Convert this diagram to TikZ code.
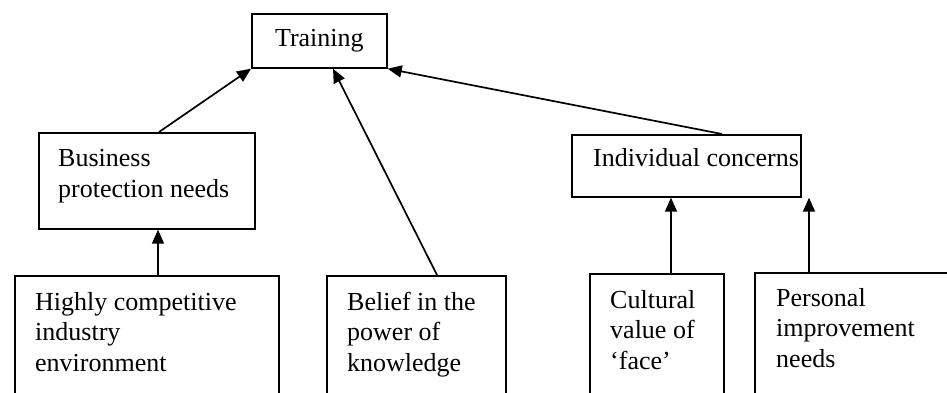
\documentclass[tikz,border=0pt]{standalone}
\usepackage{fontspec}
\setmainfont{Liberation Serif}
\usetikzlibrary{arrows.meta}
\begin{document}
\begin{tikzpicture}[x=1pt,y=-1pt,
  frame/.style={draw, line width=1.7pt, inner sep=0pt, anchor=north west},
  caption/.style={inner sep=0pt, anchor=base west, font=\fontsize{26}{30.5}\selectfont},
  link/.style={line width=1.7pt, -{Triangle[length=14pt,width=12pt]}}]
\useasboundingbox (0,0) rectangle (947,392);
\clip (0,0) rectangle (947,392);

% boxes
\node[frame, minimum width=135pt, minimum height=54pt] (train) at (251,13) {};
\node[frame, minimum width=216pt, minimum height=96pt] (business) at (38,132) {};
\node[frame, minimum width=229pt, minimum height=62pt] (indiv) at (571,134) {};
\node[frame, minimum width=264pt, minimum height=160pt] (highly) at (14,275) {};
\node[frame, minimum width=179pt, minimum height=160pt] (belief) at (326,275) {};
\node[frame, minimum width=134pt, minimum height=160pt] (cultural) at (589,273) {};
\node[frame, minimum width=240pt, minimum height=160pt] (personal) at (754,272) {};

% texts
\node[inner sep=0pt, font=\fontsize{26}{30.5}\selectfont] (trainlbl) at (train.center) {Training};
\node[caption] (businesslbl) at (58,166.5) {\parbox[t]{200pt}{Business\\protection needs}};
\node[caption] (indivlbl) at (593,166) {Individual concerns};
\node[caption] (highlylbl) at (35,310) {\parbox[t]{240pt}{Highly competitive\\industry\\environment}};
\node[caption] (belieflbl) at (347,310) {\parbox[t]{160pt}{Belief in the\\power of\\knowledge}};
\node[caption] (culturallbl) at (610,308) {\parbox[t]{120pt}{Cultural\\value of\\`face'}};
\node[caption] (personallbl) at (776,306) {\parbox[t]{160pt}{Personal\\improvement\\needs}};

% connector positions
\coordinate (xa) at (158,0);
\coordinate (xb) at (159,0);
\coordinate (xc) at (437,0);
\coordinate (xd) at (333,0);
\coordinate (xe) at (722,0);
\coordinate (xf) at (671,0);
\coordinate (xg) at (809,0);

% connectors
\draw[link] (highly.north -| xa) -- (business.south -| xa);
\draw[link] (business.north -| xb) -- (train.south west);
\draw[link] (belief.north -| xc) -- (train.south -| xd);
\draw[link] (indiv.north -| xe) -- (train.south east);
\draw[link] (cultural.north -| xf) -- (indiv.south -| xf);
\draw[link] (personal.north -| xg) -- (indiv.south -| xg);
\end{tikzpicture}
\end{document}
